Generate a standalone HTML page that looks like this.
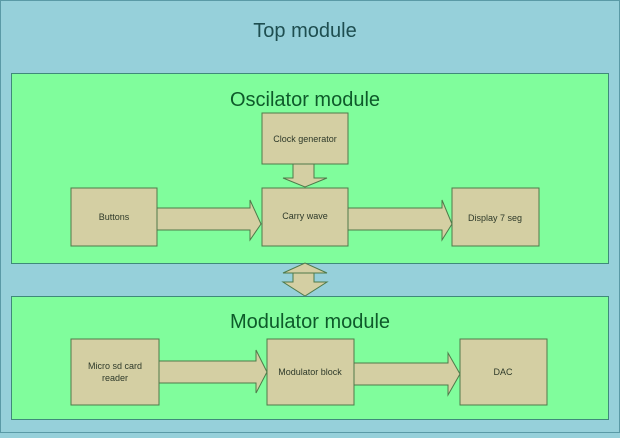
<!DOCTYPE html>
<html><head><style>body{margin:0;background:#96d0da}</style></head><body>
<svg width="620" height="433" xmlns="http://www.w3.org/2000/svg" font-family="Liberation Sans, sans-serif">
<rect x="0.5" y="0.5" width="619" height="432" fill="#96d0da" stroke="#5a9aa6"/>
<text x="305" y="37" font-size="20" fill="#1e4e50" text-anchor="middle">Top module</text>
<rect x="11.5" y="73.5" width="597" height="190" fill="#80fd9c" stroke="#3f8a7a"/>
<text x="305" y="106" font-size="20" fill="#0e5a2a" text-anchor="middle">Oscilator module</text>
<g fill="#d4cfa3" stroke="#4f7a4a">
<rect x="262" y="113" width="86" height="51"/>
<rect x="71" y="188" width="86" height="58"/>
<rect x="262" y="188" width="86" height="58"/>
<rect x="452" y="188" width="87" height="58"/>
<polygon points="293,164 314,164 314,178 327,178 305,187 283,178 293,178"/>
<polygon points="157,208 250,208 250,200 261,224 250,240 250,230 157,230"/>
<polygon points="348,208 442,208 442,200 452,224 442,240 442,230 348,230"/>
<polygon points="293,273 314,273 314,282 327,282 305,296 283,282 293,282 293,273 283,273 305,263 327,273 314,273"/>
</g>
<rect x="11.5" y="296.5" width="597" height="123" fill="#80fd9c" stroke="#3f8a7a"/>
<text x="310" y="328" font-size="20" fill="#0e5a2a" text-anchor="middle">Modulator module</text>
<g fill="#d4cfa3" stroke="#4f7a4a">
<rect x="71" y="339" width="88" height="66"/>
<rect x="267" y="339" width="87" height="66"/>
<rect x="460" y="339" width="87" height="66"/>
<polygon points="159,361 256,361 256,350 267,372 256,393 256,383 159,383"/>
<polygon points="354,363 448,363 448,353 460,374 448,395 448,385 354,385"/>
</g>
<g font-size="9" fill="#2e3a2a" text-anchor="middle">
<text x="305" y="142">Clock generator</text>
<text x="114" y="220">Buttons</text>
<text x="305" y="219">Carry wave</text>
<text x="495" y="221">Display 7 seg</text>
<text x="115" y="369">Micro sd card</text>
<text x="115" y="381">reader</text>
<text x="310" y="375">Modulator block</text>
<text x="503" y="375">DAC</text>
</g>
</svg>
</body></html>
